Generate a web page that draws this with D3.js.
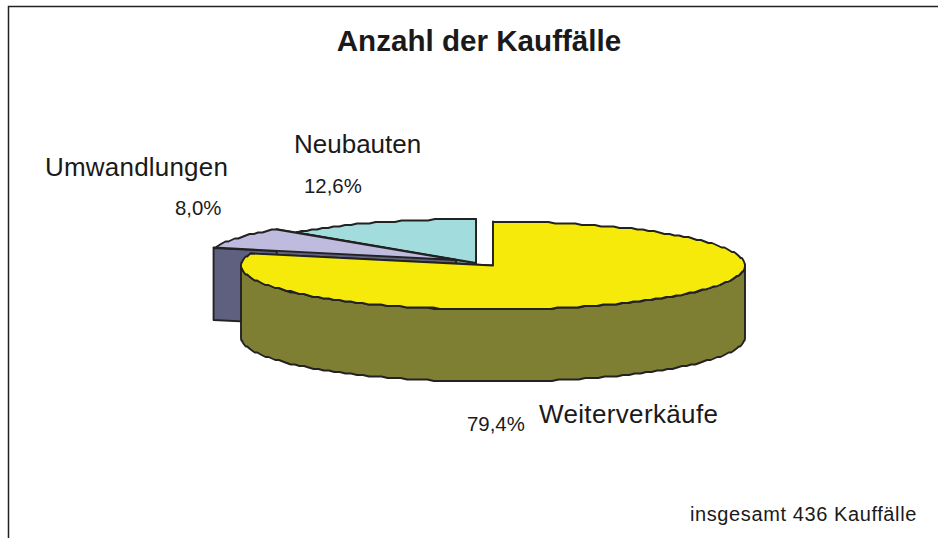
<!DOCTYPE html>
<html><head><meta charset="utf-8">
<script src="https://cdn.jsdelivr.net/npm/d3@7"></script>
<style>html,body{margin:0;padding:0;background:#fff}svg{display:block}text{font-family:"Liberation Sans",Arial,sans-serif;fill:#1a1a1a}</style>
</head><body><svg id="c" width="938" height="538"></svg>
<script>
const categories = ["Weiterverkäufe","Umwandlungen","Neubauten"];
const shares = [79.4,8.0,12.6];
const shareLabels = ["79,4%","8,0%","12,6%"];
const topColors = ["#f5ea0a","#bfbbdf","#a3dcdc"];
const sideColors = ["#7f7f33","#5f5f80","#5f8585"];
const title = "Anzahl der Kauffälle";
const footnote = "insgesamt 436 Kauffälle";

const svg = d3.select("#c");
svg.append("path").attr("d","M8.5,538V6.5H938").attr("fill","none").attr("stroke","#222").attr("stroke-width",1.5);

const rx = 252, ry = 44, depth = 72;
const centers = [[493,265.5],[456,260],[476,263]];
const arcs = d3.pie().sort(null).value(d=>d)(shares);
const stroke = "#222";
const lineGen = d3.line();

function pt(c,a){return [c[0]+rx*Math.sin(a), c[1]-ry*Math.cos(a)];}
function rim(c,a0,a1,dy){
  const n = Math.max(2,Math.round(Math.abs(a1-a0)*rx/7));
  return d3.range(n+1).map(i=>{
    const p = pt(c,a0+(a1-a0)*i/n);
    return [p[0], Math.round((p[1]+dy)/1.5)*1.5];
  });
}
function draw(pts,fill){
  svg.append("path").attr("d",lineGen(pts)+"Z").attr("fill",fill)
    .attr("stroke",stroke).attr("stroke-width",1.9).attr("stroke-linejoin","round");
}
[2,1,0].forEach(i=>{
  const a = arcs[i], c = centers[i];
  [a.startAngle,a.endAngle].forEach(ang=>{
    const p = pt(c,ang);
    draw([c,p,[p[0],p[1]+depth],[c[0],c[1]+depth]],sideColors[i]);
  });
  const lo = Math.max(a.startAngle,Math.PI/2), hi = Math.min(a.endAngle,3*Math.PI/2);
  if(hi>lo){
    draw(rim(c,lo,hi,0).concat(rim(c,hi,lo,depth)),sideColors[i]);
  }
  draw([c].concat(rim(c,a.startAngle,a.endAngle,0)),topColors[i]);
});

function label(t,x,y,size,anchor,weight,sp){
  svg.append("text").attr("x",x).attr("y",y).attr("font-size",size)
    .attr("text-anchor",anchor||"start").attr("font-weight",weight||"normal")
    .attr("letter-spacing",sp||0).text(t);
}
label(title,479,51,29.6,"middle","bold");
label(categories[2],294,153,26);
label(categories[1],45,176,26,"start",null,0.2);
label(categories[0],539,423,26,"start",null,0.35);
label(shareLabels[2],304,193,20.4);
label(shareLabels[1],175,215,20.4);
label(shareLabels[0],467,431,20.4);
label(footnote,690,521,20,"start",null,0.6);
</script></body></html>
